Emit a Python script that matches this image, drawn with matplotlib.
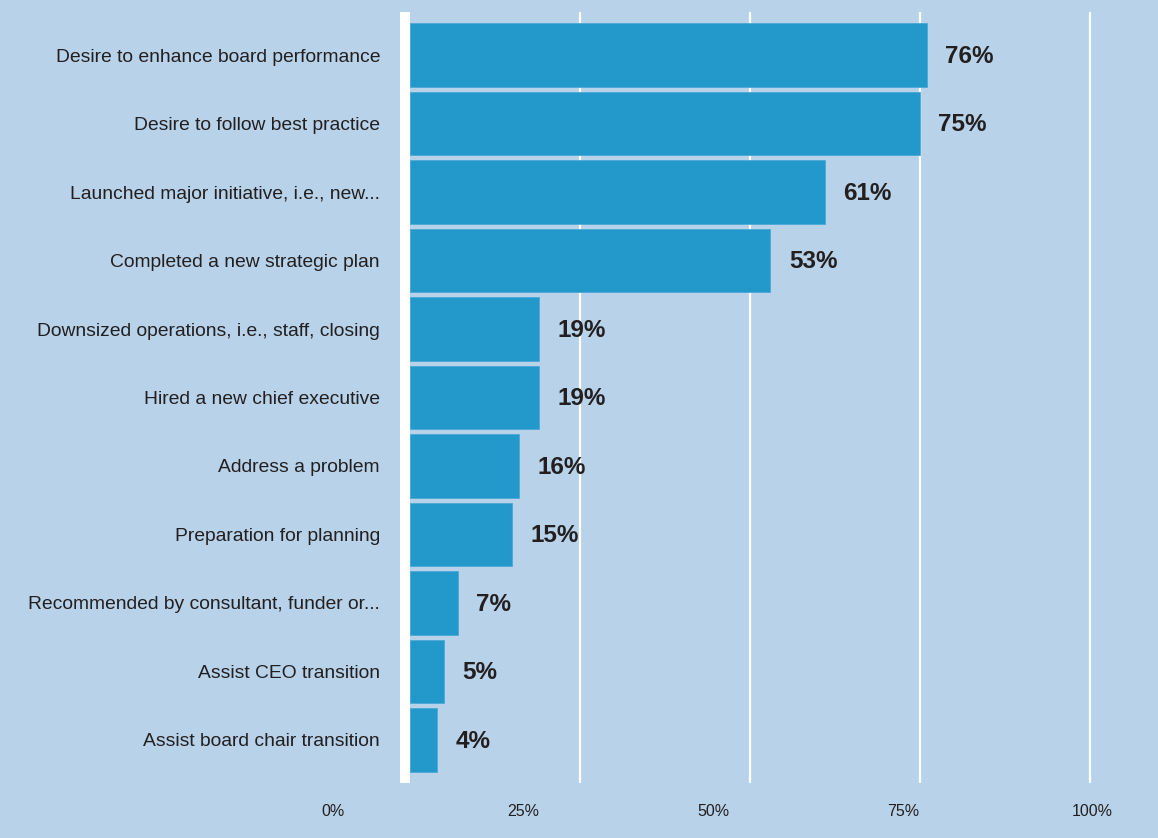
import matplotlib
matplotlib.use("Agg")
import matplotlib.pyplot as plt

# survey responses, top to bottom
reasons = [
    "Desire to enhance board performance",
    "Desire to follow best practice",
    "Launched major initiative, i.e., new...",
    "Completed a new strategic plan",
    "Downsized operations, i.e., staff, closing",
    "Hired a new chief executive",
    "Address a problem",
    "Preparation for planning",
    "Recommended by consultant, funder or...",
    "Assist CEO transition",
    "Assist board chair transition",
]
percent = [76, 75, 61, 53, 19, 19, 16, 15, 7, 5, 4]
grid_ticks = [25, 50, 75, 100]
axis_ticks = [0, 25, 50, 75, 100]
axis_labels = ["0%", "25%", "50%", "75%", "100%"]

bg = "#b8d3e9"
bar_color = "#2398cb"
ink = "#231f20"
W, H = 1158, 838

fig = plt.figure(figsize=(W / 100, H / 100), dpi=100, facecolor=bg)
ax = fig.add_axes([405 / W, 1 - 783 / H, 745 / W, 771 / H])
ax.set_facecolor(bg)

y = list(range(len(reasons)))
ax.barh(y, percent, height=0.93, color=bar_color, edgecolor="#4aa9d6",
        linewidth=0.6, zorder=3)

for yi, v in zip(y, percent):
    ax.text(v + 2.7, yi + 0.02, f"{v}%", va="center", ha="left", fontsize=17.5,
            fontweight="bold", color=ink, family="Liberation Sans", zorder=4)

ax.set_ylim(len(reasons) - 1 + 0.63, -0.63)
ax.set_xlim(-0.735, 108.8)

ax.set_yticks(y)
ax.set_yticklabels(reasons, fontsize=13.9, color=ink, family="Liberation Sans")
ax.tick_params(axis="y", length=0, pad=18)

ax.set_xticks(grid_ticks)
ax.tick_params(axis="x", length=0, labelbottom=False)
ax.grid(axis="x", color="white", linewidth=1.6, zorder=0)
ax.set_axisbelow(True)

for side in ["top", "right", "bottom"]:
    ax.spines[side].set_visible(False)
ax.spines["left"].set_color("white")
ax.spines["left"].set_linewidth(7.2)
ax.spines["left"].set_capstyle("butt")
ax.spines["left"].set_zorder(5)

# percentage scale printed under the plot, on its own strip
scale = fig.add_axes([320 / W, 1 - 783 / H, 790 / W, 0.001])
scale.patch.set_visible(False)
scale.set_xlim((320 - 333.4) / 7.592, (1110 - 333.4) / 7.592)
scale.set_yticks([])
scale.set_xticks(axis_ticks)
scale.set_xticklabels(axis_labels, fontsize=11.5, color=ink,
                      family="Liberation Sans")
scale.tick_params(axis="x", length=0, pad=15)
for s in scale.spines.values():
    s.set_visible(False)

fig.savefig("out.png", dpi=100, facecolor=bg)
